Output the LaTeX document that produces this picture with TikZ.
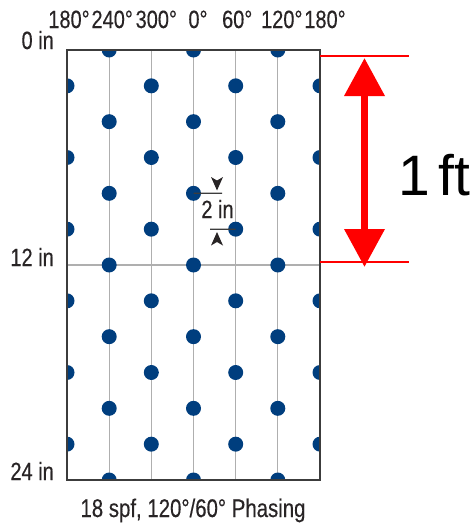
\documentclass[tikz,border=0pt]{standalone}
\usepackage{fontspec}
\setmainfont[FakeStretch=0.8,FakeBold=0.35]{Liberation Sans}
\newfontfamily\arialfont{Liberation Sans}
\usetikzlibrary{arrows.meta}
\definecolor{dotblue}{RGB}{0,62,126}
\definecolor{gridgrey}{RGB}{175,175,175}
\definecolor{framegrey}{RGB}{60,60,60}
\definecolor{txtgrey}{RGB}{40,36,37}
\definecolor{brightred}{RGB}{255,0,0}
\tikzset{
  lbl/.style={text=txtgrey, font=\fontsize{25}{29}\selectfont, inner sep=0pt},
  dot/.style={fill=dotblue},
  gridline/.style={draw=gridgrey, line width=1.3pt},
  redline/.style={draw=brightred, line width=1.6pt},
}
\begin{document}
\begin{tikzpicture}[x=1pt,y=-1pt]
\useasboundingbox (0,0) rectangle (475,525);
% column positions
\def\xa{67}\def\xb{109.2}\def\xc{151.3}\def\xd{193.5}\def\xe{235.7}\def\xf{277.8}\def\xg{320}
% grid
\foreach \xx in {\xb,\xc,\xd,\xe,\xf}
  \draw[gridline] (\xx,50) -- (\xx,480);
\draw[gridline] (67,265) -- (320,265);
% dots clipped to frame
\begin{scope}
\clip (67,50) rectangle (320,480);
\foreach \k in {0,2,...,12}{
  \foreach \xx in {\xb,\xd,\xf}
    \fill[dot] (\xx,{50+\k*35.833}) circle (7.5);
}
\foreach \k in {1,3,...,11}{
  \foreach \xx in {\xa,\xc,\xe,\xg}
    \fill[dot] (\xx,{50+\k*35.833}) circle (7.5);
}
\end{scope}
% frame
\draw[framegrey, line width=2pt] (67,50) rectangle (320,480);
% top labels
\node[lbl, anchor=base] (t1) at (\xa+2,28) {180°};
\node[lbl, anchor=base] (t2) at (\xb+3,28) {240°};
\node[lbl, anchor=base] (t3) at (\xc+5,28) {300°};
\node[lbl, anchor=base] (t4) at (\xd+4.5,28) {0°};
\node[lbl, anchor=base] (t5) at (\xe+1.5,28) {60°};
\node[lbl, anchor=base] (t6) at (\xf+4,28) {120°};
\node[lbl, anchor=base] (t7) at (\xg+5,28) {180°};
% left labels
\node[lbl, anchor=base east] (l0) at (54,49) {0 in};
\node[lbl, anchor=base east] (l12) at (54,266) {12 in};
\node[lbl, anchor=base east] (l24) at (54,480) {24 in};
% caption
\node[lbl, anchor=base, font=\fontsize{25.5}{29}\selectfont] (cap) at (193,517) {18 spf, 120°/60° Phasing};
% 2 in annotation
\coordinate (d1) at (\xd,{50+4*35.833});
\coordinate (d2) at (\xe,{50+5*35.833});
\draw[framegrey, line width=1.2pt] (d1) -- (222,193.3);
\draw[framegrey, line width=1.2pt] (210,229.2) -- (d2);
\fill[txtgrey] (217,190.5) -- (211,177) -- (217,180.5) -- (223,177) -- cycle;
\fill[txtgrey] (217,232) -- (211,245.5) -- (217,242) -- (223,245.5) -- cycle;
\node[lbl, anchor=base] (two) at (217.5,218) {2 in};
% 1 ft dimension
\coordinate (ra) at (320,56);
\coordinate (rb) at (409,56);
\coordinate (rc) at (320,262);
\coordinate (rd) at (409,262);
\draw[redline] (ra) -- (rb);
\draw[redline] (rc) -- (rd);
\coordinate (at) at (364.5,58);
\coordinate (ab) at (364.5,267);
\draw[brightred, line width=7pt, {Triangle[length=38pt,width=39pt]}-{Triangle[length=38pt,width=39pt]}] (at) -- (ab);
\node[anchor=base west, inner sep=0pt, font=\arialfont\fontsize{57}{60}\selectfont] (ft) at (398,195) {1\hspace{-7pt} ft};
\end{tikzpicture}
\end{document}
